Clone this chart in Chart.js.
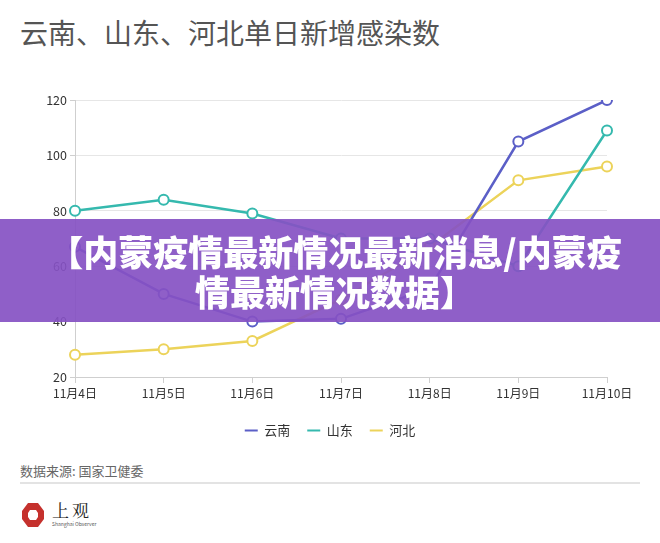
<!DOCTYPE html>
<html>
<head>
<meta charset="utf-8">
<script src="https://cdn.jsdelivr.net/npm/chart.js@4.4.1/dist/chart.umd.min.js"></script>
<style>
  html, body { margin: 0; padding: 0; background: #fff; }
  body { width: 660px; height: 543px; position: relative; overflow: hidden; font-family: "Noto Sans CJK SC", "Noto Sans", sans-serif; }
  #title { position: absolute; left: 20px; top: 16px; font-size: 28px; line-height: 32px; color: #555; white-space: nowrap; }
  #wrap { position: absolute; left: 0; top: 80px; width: 660px; height: 380px; }
  #banner { position: absolute; left: 0; top: 219px; width: 660px; height: 103px; background: rgba(133,81,195,0.92); color: #fff; font-weight: 900; font-size: 35px; line-height: 40px; text-align: center; box-sizing: border-box; padding-top: 12px; padding-left: 10px; }
  #src { position: absolute; left: 20px; top: 462px; font-size: 13px; line-height: 18px; color: #666; }
  #rule { position: absolute; left: 20px; top: 482px; width: 620px; height: 2px; background: #e3e3e3; }
  #logo { position: absolute; left: 21px; top: 502px; }
  #logotext { position: absolute; left: 52px; top: 500px; font-family: "Noto Serif CJK SC", "Noto Sans CJK SC", serif; font-size: 17px; line-height: 20px; color: #222; letter-spacing: 3px; }
  #logosub { position: absolute; left: 52px; top: 521px; font-size: 5px; line-height: 6px; color: #555; white-space: nowrap; }
</style>
</head>
<body>
<div id="title">云南、山东、河北单日新增感染数</div>
<div id="wrap"><canvas id="c"></canvas></div>
<div id="banner">【内蒙疫情最新情况最新消息/内蒙疫<br>情最新情况数据】</div>
<div id="src">数据来源: 国家卫健委</div>
<div id="rule"></div>
<svg id="logo" width="24" height="26" viewBox="0 0 24 26">
  <polygon points="7,1 17,1 23,9 23,17 17,25 7,25 1,17 1,9" fill="#c5312d"/>
  <polygon points="9,8 15,8 17,11 17,15 15,18 9,18 7,15 7,11" fill="#fff"/>
</svg>
<div id="logotext">上观</div>
<div id="logosub">Shanghai Observer</div>
<script>
const categories = ["11月4日", "11月5日", "11月6日", "11月7日", "11月8日", "11月9日", "11月10日"];
const yunnan = [67, 50, 40, 41, 52, 105, 120];
const shandong = [80, 84, 79, 70, 70, 60, 109];
const hebei = [28, 30, 33, 48, 67, 91, 96];
const seriesNames = ["云南", "山东", "河北"];
const yTicks = [20, 40, 60, 80, 100, 120];

const colors = ["#5b5fc7", "#35b9ae", "#ecd35a"];
const font = '"Noto Sans CJK SC", "Noto Sans", sans-serif';

function ds(label, data, color) {
  return {
    label, data,
    borderColor: color, backgroundColor: color,
    borderWidth: 2.5,
    pointRadius: 5, pointHoverRadius: 5,
    pointBackgroundColor: "#fff", pointBorderColor: color, pointBorderWidth: 2,
    tension: 0, fill: false
  };
}

new Chart(document.getElementById("c"), {
  type: "line",
  data: {
    labels: categories,
    datasets: [
      ds(seriesNames[0], yunnan, colors[0]),
      ds(seriesNames[1], shandong, colors[1]),
      ds(seriesNames[2], hebei, colors[2])
    ]
  },
  options: {
    responsive: true, maintainAspectRatio: false, animation: false,
    layout: { padding: { top: 20, right: 0, left: 0, bottom: 13 } },
    plugins: {
      title: { display: false },
      tooltip: { enabled: false },
      legend: {
        position: "bottom",
        labels: {
          usePointStyle: true, pointStyle: "line", pointStyleWidth: 13,
          color: "#333", font: { family: font, size: 13 }, padding: 17,
          generateLabels(chart) {
            return chart.data.datasets.map((d, i) => ({
              text: d.label, strokeStyle: d.borderColor, fillStyle: d.borderColor,
              lineWidth: 2, pointStyle: "line", datasetIndex: i, fontColor: "#333"
            }));
          }
        }
      }
    },
    scales: {
      x: {
        offset: false,
        afterFit(s) { s.height = 30; },
        border: { display: true, color: "#cfcfcf", width: 1 },
        grid: { display: true, drawOnChartArea: false, drawTicks: true, tickLength: 6, tickColor: "#cfcfcf" },
        ticks: { color: "#333", font: { family: font, size: 12 }, padding: 3, maxRotation: 0, autoSkip: false }
      },
      y: {
        min: 20, max: 120,
        afterFit(s) { s.width = 75; },
        afterBuildTicks(s) { s.ticks = yTicks.map(v => ({ value: v })); },
        border: { display: true, color: "#cfcfcf", width: 1 },
        grid: { color: "#e6e6e6", lineWidth: 1, borderDash: [2, 2], tickBorderDash: [], tickColor: "#cfcfcf", tickLength: 5 },
        ticks: { color: "#333", font: { family: font, size: 12.5 }, padding: 3 }
      },
      yRight: {
        position: "right", min: 20, max: 120,
        afterFit(s) { s.width = 53; },
        border: { display: false },
        grid: { display: false, drawTicks: false },
        ticks: { display: false }
      }
    }
  }
});
</script>
</body>
</html>
